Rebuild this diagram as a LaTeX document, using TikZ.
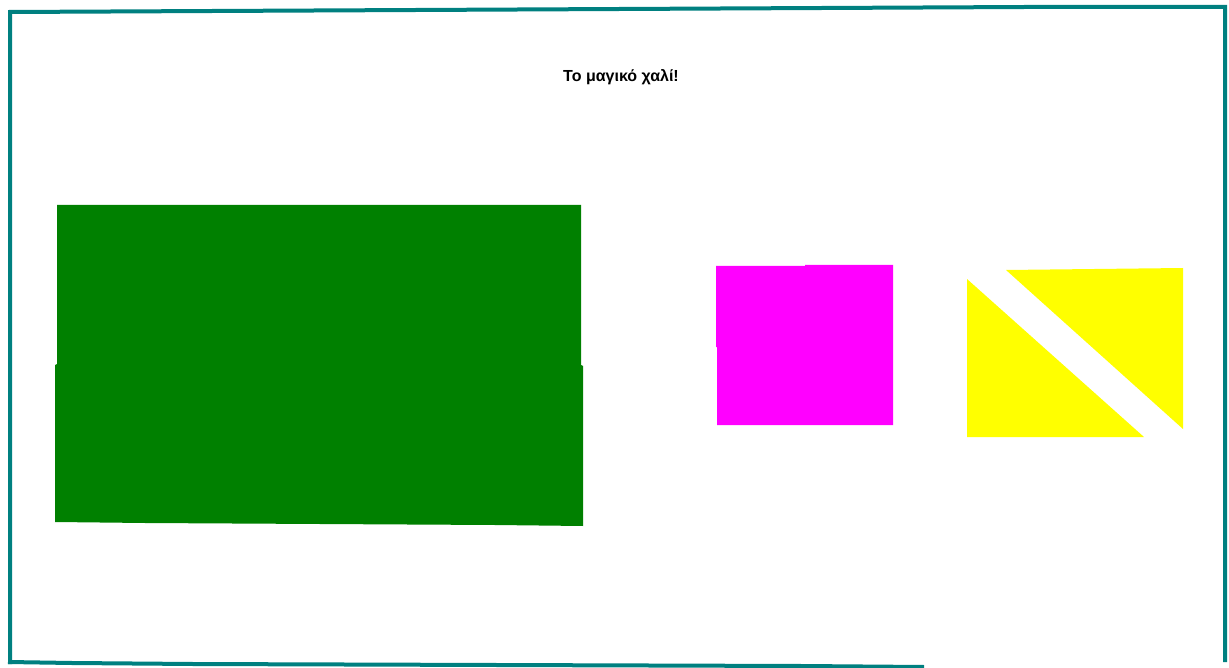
\documentclass[tikz,border=0pt]{standalone}
\usepackage{fontspec}
\setmainfont{Liberation Sans}
\definecolor{frameteal}{RGB}{0,128,128}
\definecolor{carpetgreen}{RGB}{0,128,0}
\definecolor{magentabox}{RGB}{255,0,255}
\definecolor{yellowtri}{RGB}{255,255,0}
\begin{document}
\begin{tikzpicture}[x=1pt,y=-1pt,
  framepen/.style={draw=frameteal,line width=4pt,line cap=butt,line join=miter},
  titletext/.style={font=\bfseries\fontsize{16}{18}\selectfont,text=black,inner sep=0pt},
  greenfill/.style={fill=carpetgreen},
  magfill/.style={fill=magentabox},
  yelfill/.style={fill=yellowtri}]
\useasboundingbox[fill=white] (0,0) rectangle (1229,668);
% frame
\draw[framepen] (10,664) -- (10,12) -- (213,11) -- (620,9) -- (1025,7) -- (1225,7) -- (1225,662);
\draw[framepen] (8,662) -- (72,663) -- (193,664) -- (802,666) -- (924,667);
% title
\node[titletext] (title) at (621,77) {Το μαγικό χαλί!};
% green carpet
\fill[greenfill] (57,205) -- (581,205) -- (581,365) -- (583,366) -- (583,526) -- (495,525) -- (320,524) -- (145,523) -- (55,522) -- (55,365) -- (57,364) -- cycle;
% magenta square
\fill[magfill] (716,266) -- (805,266) -- (805,265) -- (893,265) -- (893,425) -- (717,425) -- (717,347) -- (716,347) -- cycle;
% yellow triangles
\fill[yelfill] (967,279) -- (1144,437) -- (967,437) -- cycle;
\fill[yelfill] (1006,270) -- (1183,268) -- (1183,429) -- cycle;
\end{tikzpicture}
\end{document}
